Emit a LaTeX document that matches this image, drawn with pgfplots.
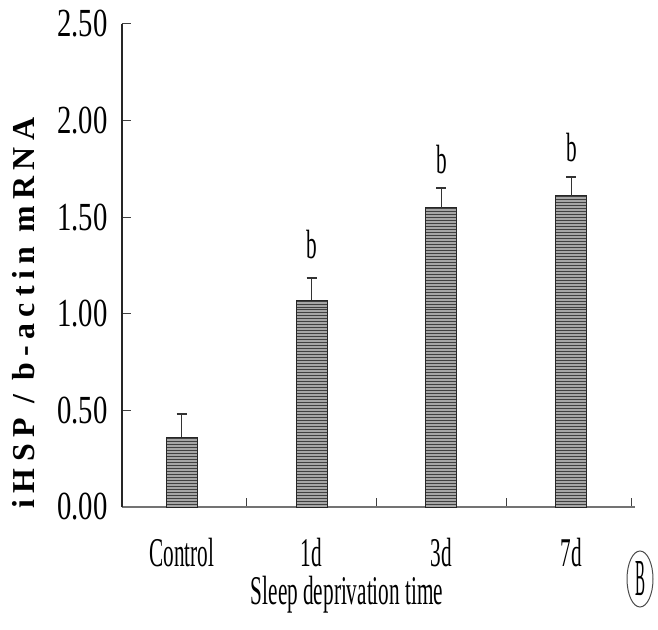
\documentclass[border=0pt]{standalone}
\usepackage{fontspec}
\setmainfont{Liberation Serif}
\newfontfamily\condA[FakeStretch=0.52]{Liberation Serif}
\newfontfamily\condB[FakeStretch=0.72]{Liberation Serif}
\newfontfamily\ylabfont[LetterSpace=20]{Liberation Serif}
\usepackage{pgfplots}
\pgfplotsset{compat=1.18}
\usetikzlibrary{patterns,shapes.geometric}

% iHSP / b-actin mRNA, mean and upper error
\pgfplotstableread{
x val err
0 0.362 0.118
1 1.070 0.115
2 1.550 0.100
3 1.610 0.100
}\sdtable

\begin{document}
\begin{tikzpicture}
\begin{axis}[name=ax, scale only axis, width=513bp, height=483bp,
  axis x line=bottom, axis y line=left, axis line style={-},
  x axis line style={black!55, line width=2.2bp},
  y axis line style={black!85, line width=1.3bp},
  xmin=-0.46, xmax=3.49, ymin=0, ymax=2.5,
  ytick={0,0.5,1,1.5,2,2.5}, yticklabels={0.00,0.50,1.00,1.50,2.00,2.50},
  xtick={0.5,1.5,2.5,3.46}, xticklabels={},
  extra x ticks={0,1,2,3}, extra x tick labels={Control,1d,3d,7d},
  extra x tick style={major tick length=0pt},
  tick style={black!75, line width=1bp},
  tick align=inside, major tick length=9bp,
  yticklabel style={font=\condB\fontsize{40}{40}\selectfont, anchor=east, xshift=-11bp},
  xticklabel style={font=\condA\fontsize{41}{41}\selectfont, anchor=base, yshift=-59bp},
  clip=false]
\addplot[ybar, bar width=31bp, draw=black!85, line width=1bp, fill=gray!70,
  postaction={pattern=horizontal lines, pattern color=black!75},
  error bars/.cd, y dir=plus, y explicit,
  error bar style={black!80, line width=1.1bp},
  error mark options={rotate=90, black!80, line width=1.8bp, mark size=5bp}]
  table[x=x, y=val, y error=err] {\sdtable};
\node[font=\condA\fontsize{41}{41}\selectfont, inner sep=0] at (axis cs:1,1.36) {b};
\node[font=\condA\fontsize{41}{41}\selectfont, inner sep=0] at (axis cs:2,1.80) {b};
\node[font=\condA\fontsize{41}{41}\selectfont, inner sep=0] at (axis cs:3,1.86) {b};
\end{axis}
\node[rotate=90, font=\ylabfont\bfseries\fontsize{32}{32}\selectfont]
  at ([xshift=-98bp,yshift=194bp]ax.south west) {iHSP / b-actin mRNA};
\node[font=\condA\fontsize{41}{41}\selectfont, anchor=base]
  at ([xshift=225bp,yshift=-97bp]ax.south west) {Sleep deprivation time};
\node[draw=black!70, line width=1bp, ellipse, minimum width=26bp, minimum height=56bp, inner sep=0]
  at ([xshift=518bp,yshift=-72bp]ax.south west) {\resizebox{10bp}{34bp}{B}};
\pgfresetboundingbox
\path ([shift={(-122bp,-123bp)}]ax.south west) rectangle ([shift={(536bp,507bp)}]ax.south west);
\end{tikzpicture}
\end{document}
